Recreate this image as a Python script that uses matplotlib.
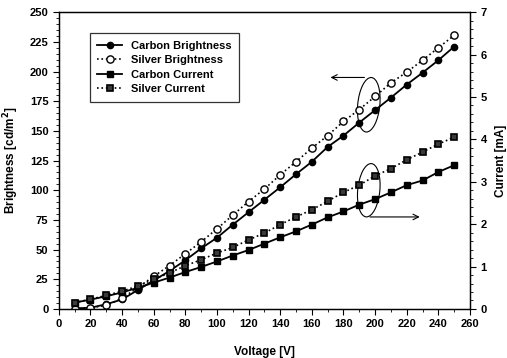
import matplotlib
matplotlib.use('Agg')
import matplotlib.pyplot as plt
from matplotlib.patches import Ellipse
from matplotlib.ticker import MultipleLocator

plt.rcParams['font.family'] = ['Liberation Sans', 'DejaVu Sans']
plt.rcParams['font.weight'] = 'bold'

voltage = [10, 20, 30, 40, 50, 60, 70, 80, 90, 100, 110, 120, 130,
           140, 150, 160, 170, 180, 190, 200, 210, 220, 230, 240, 250]

carbon_brightness = [0.5, 1, 4, 8, 16, 24, 32, 41, 51, 60, 71, 81.5, 92,
                     102.5, 113.5, 124, 136.5, 146, 157, 167.5, 178, 189, 199, 209.5, 221]
silver_brightness = [0, 1, 3, 9, 18, 27.5, 36.5, 46.5, 56.5, 67.5, 79, 90.5, 101,
                     113, 124, 135.5, 146, 158, 168, 179, 190.5, 199.5, 209.5, 220, 230.5]

carbon_current = [0.15, 0.22, 0.30, 0.39, 0.50, 0.62, 0.74, 0.87, 0.99, 1.12, 1.26, 1.39, 1.54,
                  1.69, 1.83, 1.99, 2.16, 2.30, 2.46, 2.59, 2.75, 2.92, 3.03, 3.23, 3.39]
silver_current = [0.15, 0.23, 0.32, 0.42, 0.54, 0.70, 0.85, 1.02, 1.16, 1.32, 1.45, 1.63, 1.79,
                  1.99, 2.17, 2.34, 2.54, 2.75, 2.92, 3.14, 3.31, 3.52, 3.70, 3.89, 4.05]

fig = plt.figure(figsize=(5.07, 3.58), dpi=100)
ax = fig.add_axes([0.116, 0.137, 0.811, 0.829])
ax2 = ax.twinx()

l1, = ax.plot(voltage, carbon_brightness, '-', color='black', lw=1.3,
              marker='o', ms=4.5, mfc='black', mec='black', label='Carbon Brightness')
l2, = ax.plot(voltage, silver_brightness, ':', color='black', lw=1.2,
              marker='o', ms=5.2, mfc='white', mec='black', mew=1.0, label='Silver Brightness')
l3, = ax2.plot(voltage, carbon_current, '-', color='black', lw=1.3,
               marker='s', ms=4.5, mfc='black', mec='black', label='Carbon Current')
l4, = ax2.plot(voltage, silver_current, ':', color='black', lw=1.2,
               marker='s', ms=5, mfc='#3a3a3a', mec='black', mew=1.2, label='Silver Current')

ax.set_xlim(0, 260)
ax.set_ylim(0, 250)
ax2.set_ylim(0, 7)
ax.xaxis.set_major_locator(MultipleLocator(20))
ax.xaxis.set_minor_locator(MultipleLocator(10))
ax.yaxis.set_major_locator(MultipleLocator(25))
ax.yaxis.set_minor_locator(MultipleLocator(5))
ax2.yaxis.set_major_locator(MultipleLocator(1))
ax2.yaxis.set_minor_locator(MultipleLocator(0.2))

for a in (ax, ax2):
    a.tick_params(which='major', length=4, width=0.8, labelsize=8, direction='out')
    a.tick_params(which='minor', length=2, width=0.6, direction='out')
    for s in a.spines.values():
        s.set_linewidth(0.9)
for lab in ax.get_xticklabels() + ax.get_yticklabels() + ax2.get_yticklabels():
    lab.set_fontweight('bold')

ax.set_xlabel('Voltage [V]', fontsize=8.5, fontweight='bold', labelpad=12)
ax.set_ylabel('Brightness [cd/m$^\\mathbf{2}$]', fontsize=8.5, fontweight='bold', labelpad=6)
ax2.set_ylabel('Current [mA]', fontsize=8.5, fontweight='bold', labelpad=6)

leg = ax.legend(handles=[l1, l2, l3, l4], loc='upper left',
                bbox_to_anchor=(0.075, 0.93), borderaxespad=0, fontsize=8, frameon=True,
                fancybox=False, edgecolor='black', handlelength=2.2,
                borderpad=0.7, labelspacing=0.4)
leg.get_frame().set_linewidth(0.9)
for t in leg.get_texts():
    t.set_fontweight('bold')

# annotation ellipses and arrows
ax.add_patch(Ellipse((196, 172), 14, 46, angle=-4, fill=False, ec='black', lw=0.8))
ax.annotate('', xy=(170, 195), xytext=(195, 195),
            arrowprops=dict(arrowstyle='->', color='black', lw=0.8))
ax.add_patch(Ellipse((196, 100), 14, 45, angle=-4, fill=False, ec='black', lw=0.8))
ax.annotate('', xy=(230, 77.5), xytext=(195, 77.5),
            arrowprops=dict(arrowstyle='->', color='black', lw=0.8))

fig.savefig('out.png', dpi=100)
